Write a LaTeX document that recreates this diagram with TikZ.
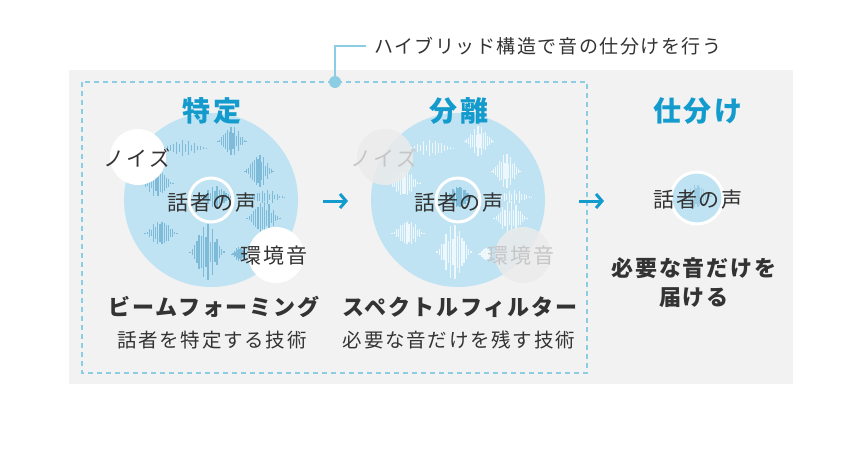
\documentclass[tikz,border=0pt]{standalone}
\usepackage{fontspec}
\setmainfont{Noto Sans CJK JP}[LetterSpace=9]
\newfontfamily\hyb{Noto Sans CJK JP}[LetterSpace=8]
\usetikzlibrary{arrows.meta}
\definecolor{bgc}{HTML}{F2F2F2}
\definecolor{cfill}{HTML}{BFE3F2}
\definecolor{wvc}{HTML}{7DBBD9}
\definecolor{ttl}{HTML}{149BCD}
\definecolor{dsh}{HTML}{8CCDE3}
\definecolor{txt}{HTML}{333333}
\definecolor{gbub}{HTML}{EBEBEB}
\definecolor{gtxt}{HTML}{C6C6C6}
\newcommand\wavecl[5]{%
  \foreach \i in {0,...,15}{%
    \pgfmathsetmacro\tt{(\i+0.5)/16}%
    \pgfmathsetmacro\hh{#4*(sin(180*\tt))^1.6*(0.4+0.6*abs(sin(\i*97+#1*3)))}%
    \draw[#5] ({#1+#3*\tt},{#2-\hh/2}) -- ({#1+#3*\tt},{#2+\hh/2});
  }}
\tikzset{
  bigc/.style={circle, fill=cfill, minimum size=174pt, inner sep=0},
  wbub/.style={circle, fill=white, minimum size=56pt, inner sep=0},
  gb/.style={circle, fill=gbub, fill opacity=0.85, minimum size=56pt, inner sep=0},
  ring/.style={circle, draw=white, line width=3pt, minimum size=44pt, inner sep=0},
  ttlt/.style={text=ttl, font=\fontsize{28}{30}\selectfont\bfseries},
  lbl/.style={text=txt, font=\fontsize{21}{24}\selectfont},
  glbl/.style={text=gtxt, font=\fontsize{21}{24}\selectfont},
  hd/.style={text=txt, font=\fontsize{22}{24}\selectfont\bfseries},
  sub/.style={text=txt, font=\fontsize{19.5}{22}\selectfont},
  wb/.style={wvc, line width=1.3pt},
  ww/.style={white, opacity=0.75, line width=1.3pt},
  arr/.style={ttl, line width=3pt, -{Straight Barb[length=6pt,width=14pt,line width=3pt]}},
}
\begin{document}
\begin{tikzpicture}[x=1pt,y=-1pt]
\useasboundingbox (0,0) rectangle (860,452);
\fill[white] (0,0) rectangle (860,452);
\fill[bgc] (69,70) rectangle (793,384);
\draw[dsh, line width=1.2pt, dash pattern=on 5pt off 4pt] (82,82) rectangle (587,373);
\node[circle, fill=dsh, minimum size=12pt, inner sep=0] (dot) at (335,82) {};
\coordinate (corner) at (335,46);
\coordinate (lend) at (366,46);
\draw[dsh, line width=1.2pt] (dot) -- (corner) -- (lend);
\node[anchor=west, text=txt, font=\hyb\fontsize{19}{22}\selectfont, inner sep=0] (hybrid) at (374,46) {ハイブリッド構造で音の仕分けを行う};
% circle 1
\node[bigc] (c1) at (211,200) {};
\wavecl{160}{148}{48}{16}{wb}
\wavecl{217}{141}{30}{30}{wb}
\wavecl{244}{171}{30}{34}{wb}
\wavecl{140}{183}{34}{28}{wb}
\wavecl{246}{197}{40}{14}{wb}
\wavecl{246}{218}{35}{34}{wb}
\wavecl{144}{233}{34}{26}{wb}
\wavecl{189}{252}{36}{56}{wb}
\wavecl{231}{254}{16}{14}{wb}
\wavecl{198}{197}{36}{22}{wb}
\node[wbub] (n1) at (138,157) {};
\node[wbub] (e1) at (276,255) {};
\node[ring] (r1) at (211,200) {};
\node[lbl] (n1t) at (137,158) {ノイズ};
\node[lbl] (e1t) at (274,256) {環境音};
\node[lbl] (v1t) at (212,203) {話者の声};
\node[ttlt] (t1) at (212,111) {特定};
% circle 2
\node[bigc] (c2) at (458,200) {};
\wavecl{407}{148}{48}{16}{ww}
\wavecl{464}{141}{30}{30}{ww}
\wavecl{491}{171}{30}{34}{ww}
\wavecl{387}{183}{34}{28}{ww}
\wavecl{493}{197}{40}{14}{ww}
\wavecl{493}{218}{35}{34}{ww}
\wavecl{391}{233}{34}{26}{ww}
\wavecl{436}{252}{36}{56}{ww}
\wavecl{478}{254}{16}{14}{ww}
\begin{scope}
\clip (458,200) circle (21);
\wavecl{445}{197}{28}{24}{wb}
\end{scope}
\node[gb] (n2) at (385,157) {};
\node[gb] (e2) at (523,255) {};
\node[ring] (r2) at (458,200) {};
\node[glbl] (n2t) at (384,158) {ノイズ};
\node[glbl] (e2t) at (521,256) {環境音};
\node[lbl] (v2t) at (459,203) {話者の声};
\node[ttlt] (t2) at (459,111) {分離};
% circle 3
\node[circle, fill=cfill, draw=white, line width=3pt, minimum size=52pt, inner sep=0] (c3) at (697,198) {};
\begin{scope}
\clip (697,198) circle (24);
\wavecl{682}{196}{30}{24}{wvc, opacity=0.5, line width=1.2pt}
\end{scope}
\node[lbl] (v3t) at (698,200) {話者の声};
\node[ttlt] (t3) at (698,111) {仕分け};
\node[hd] (f1) at (694,268) {必要な音だけを};
\node[hd] (f2) at (694,298) {届ける};
% arrows
\coordinate (a1s) at (323,201);
\coordinate (a1e) at (348,201);
\coordinate (a2s) at (579,201);
\coordinate (a2e) at (604,201);
\draw[arr] (a1s) -- (a1e);
\draw[arr] (a2s) -- (a2e);
% labels
\node[hd] (h1) at (214,307) {ビームフォーミング};
\node[sub] (s1) at (212,340) {話者を特定する技術};
\node[hd] (h2) at (460,307) {スペクトルフィルター};
\node[sub] (s2) at (459,340) {必要な音だけを残す技術};
\end{tikzpicture}
\end{document}
